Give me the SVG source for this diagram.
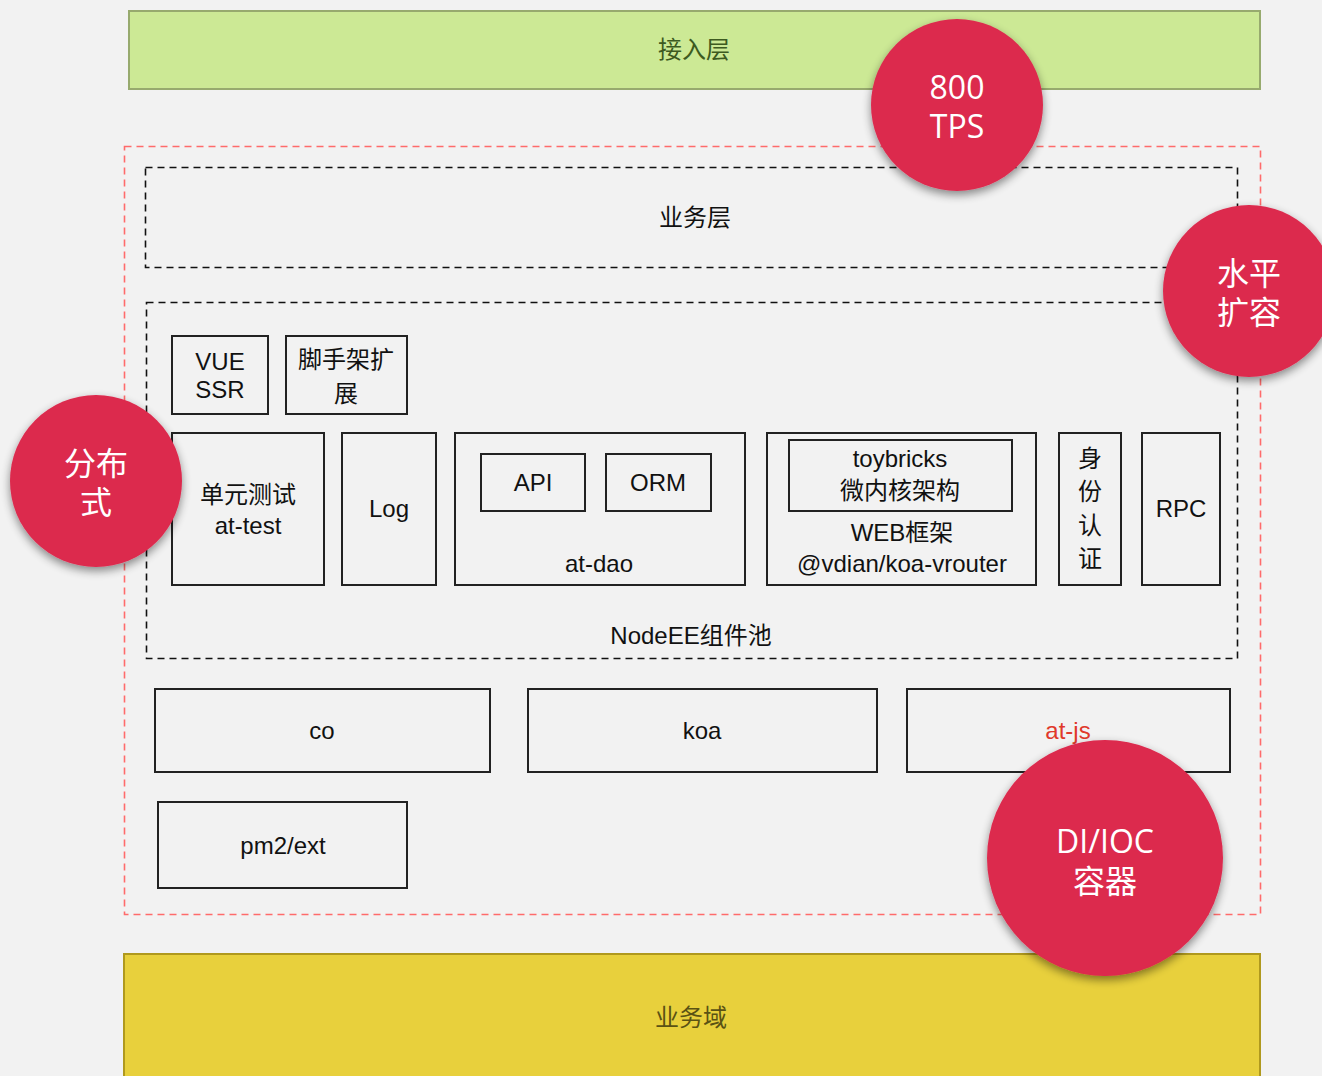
<svg xmlns="http://www.w3.org/2000/svg" width="1322" height="1076" viewBox="0 0 1322 1076">
<defs>
<filter id="sh" x="-30%" y="-30%" width="160%" height="160%">
<feGaussianBlur in="SourceAlpha" stdDeviation="5"/>
<feOffset dx="0" dy="4"/>
<feComponentTransfer><feFuncA type="linear" slope="0.45"/></feComponentTransfer>
<feMerge><feMergeNode/><feMergeNode in="SourceGraphic"/></feMerge>
</filter>
</defs>
<style>
text{font-family:"Liberation Sans","Noto Sans CJK SC",sans-serif;font-size:24px;fill:#111;text-anchor:middle}
.box{fill:none;stroke:#222;stroke-width:2}
.blk{fill:none;stroke:#111;stroke-width:1.6;stroke-dasharray:7 5}
.red{fill:none;stroke:#ff6b6b;stroke-width:1.6;stroke-dasharray:7 5}
.circ{fill:#dc2a4e;filter:url(#sh)}
.ct{fill:#fff;font-size:32px;font-family:"Open Sans","Noto Sans CJK SC",sans-serif}
</style>
<rect width="1322" height="1076" fill="#f2f2f2"/>
<g id="access"><rect x="129" y="11" width="1131" height="78" fill="#cce995" stroke="#97aa6e" stroke-width="2"/><text x="694" y="58" style="fill:#3d5a20">接入层</text></g>
<g id="outer"><rect class="red" x="124.5" y="146.5" width="1136" height="768"/></g>
<g id="biz"><rect class="blk" x="145.5" y="167.5" width="1092" height="100"/><text x="695" y="226">业务层</text></g>
<g id="pool"><rect class="blk" x="146.5" y="302.5" width="1091" height="356"/><text x="691" y="644">NodeEE组件池</text></g>
<g id="vue"><rect class="box" x="172" y="336" width="96" height="78"/><text x="220" y="370">VUE</text><text x="220" y="398">SSR</text></g>
<g id="scaffold"><rect class="box" x="286" y="336" width="121" height="78"/><text x="346" y="368">脚手架扩</text><text x="346" y="402">展</text></g>
<g id="unittest"><rect class="box" x="172" y="433" width="152" height="152"/><text x="248" y="503">单元测试</text><text x="248" y="534">at-test</text></g>
<g id="log"><rect class="box" x="342" y="433" width="94" height="152"/><text x="389" y="517">Log</text></g>
<g id="atdao"><rect class="box" x="455" y="433" width="290" height="152"/><text x="599" y="572">at-dao</text></g>
<g id="api"><rect class="box" x="481" y="454" width="104" height="57"/><text x="533" y="491">API</text></g>
<g id="orm"><rect class="box" x="606" y="454" width="105" height="57"/><text x="658" y="491">ORM</text></g>
<g id="web"><rect class="box" x="767" y="433" width="269" height="152"/><text x="902" y="541">WEB框架</text><text x="902" y="572">@vdian/koa-vrouter</text></g>
<g id="toybricks"><rect class="box" x="789" y="440" width="223" height="71"/><text x="900" y="467">toybricks</text><text x="900" y="499">微内核架构</text></g>
<g id="auth"><rect class="box" x="1059" y="433" width="62" height="152"/><text x="1090" y="467">身</text><text x="1090" y="500">份</text><text x="1090" y="534">认</text><text x="1090" y="567">证</text></g>
<g id="rpc"><rect class="box" x="1142" y="433" width="78" height="152"/><text x="1181" y="517">RPC</text></g>
<g id="co"><rect class="box" x="155" y="689" width="335" height="83"/><text x="322" y="739">co</text></g>
<g id="koa"><rect class="box" x="528" y="689" width="349" height="83"/><text x="702" y="739">koa</text></g>
<g id="atjs"><rect class="box" x="907" y="689" width="323" height="83"/><text x="1068" y="739" style="fill:#e0392b">at-js</text></g>
<g id="pm2"><rect class="box" x="158" y="802" width="249" height="86"/><text x="283" y="854">pm2/ext</text></g>
<g id="domain"><rect x="124" y="954" width="1136" height="130" fill="#e8d03c" stroke="#b0991e" stroke-width="2"/><text x="691" y="1026" style="fill:#5a5214">业务域</text></g>
<g id="tps"><circle class="circ" cx="957" cy="105" r="86"/><text class="ct" x="957" y="99">800</text><text class="ct" x="957" y="138">TPS</text></g>
<g id="scale"><circle class="circ" cx="1249" cy="291" r="86"/><text class="ct" x="1249" y="285">水平</text><text class="ct" x="1249" y="324">扩容</text></g>
<g id="dist"><circle class="circ" cx="96" cy="481" r="86"/><text class="ct" x="96" y="475">分布</text><text class="ct" x="96" y="514">式</text></g>
<g id="di"><circle class="circ" cx="1105" cy="858" r="118"/><text class="ct" x="1105" y="853">DI/IOC</text><text class="ct" x="1105" y="893">容器</text></g>
<g id="connectors"></g>
</svg>
